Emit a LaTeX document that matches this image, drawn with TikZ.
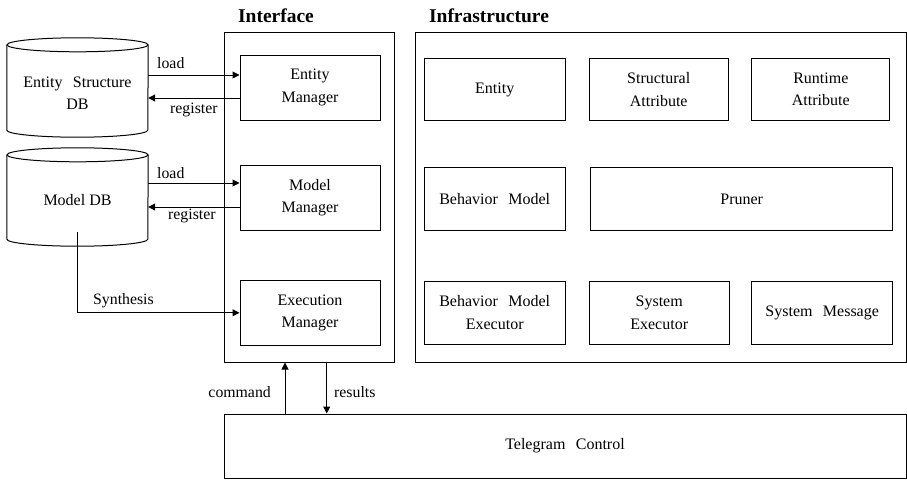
\documentclass[tikz,border=0pt]{standalone}
\usepackage{fontspec}
\setmainfont{Liberation Serif}
\usetikzlibrary{arrows.meta,calc}

\tikzset{
  box/.style={draw, line width=1pt, align=center, inner sep=0pt,
    font=\fontsize{16}{22.5}\selectfont},
  frame/.style={draw, line width=1pt, inner sep=0pt},
  dbstore/.style={inner sep=0pt},
  dbtext/.style={inner sep=0pt, align=center, font=\fontsize{16}{22}\selectfont},
  lbl/.style={inner sep=0pt, font=\fontsize{15.8}{18}\selectfont},
  ttl/.style={inner sep=0pt, font=\fontsize{19.5}{22}\selectfont\bfseries},
  link/.style={line width=1pt, -{Triangle[length=7pt,width=7pt]}},
  plain/.style={line width=1pt},
}
\newcommand{\gap}{\hspace{0.65em}}

\begin{document}
\begin{tikzpicture}[x=1pt,y=-1pt]
\useasboundingbox (0,0) rectangle (907,479);

% titles
\node[ttl] (titf) at (276,16) {Interface};
\node[ttl] (tinf) at (489,16) {Infrastructure};

% outer frames
\node[frame, minimum width=170pt, minimum height=330pt] (iface) at (309,197) {};
\node[frame, minimum width=491pt, minimum height=330pt] (infra) at (660.5,197.3) {};
\node[box, minimum width=682pt, minimum height=64pt] (tc) at (565,446) {Telegram\gap Control};

% interface managers
\node[box, minimum width=140pt, minimum height=65pt] (em) at (310,87.5) {Entity\\Manager};
\node[box, minimum width=140pt, minimum height=65pt] (mm) at (310,197.5) {Model\\Manager};
\node[box, minimum width=140pt, minimum height=65pt] (xm) at (310,312.8) {Execution\\Manager};

% infrastructure components
\node[box, minimum width=141pt, minimum height=62pt] (ent) at (494.7,89.5) {Entity};
\node[box, minimum width=139pt, minimum height=62pt] (sat) at (658.7,89.5) {Structural\\Attribute};
\node[box, minimum width=138pt, minimum height=62pt] (rat) at (820.8,89.5) {Runtime\\Attribute};
\node[box, minimum width=141pt, minimum height=63pt] (bm) at (494.7,199) {Behavior\gap Model};
\node[box, minimum width=302pt, minimum height=63pt] (pr) at (741.7,199) {Pruner};
\node[box, minimum width=141pt, minimum height=63pt] (bme) at (494.7,312.7) {Behavior\gap Model\\Executor};
\node[box, minimum width=140pt, minimum height=63pt] (sex) at (659.2,312.7) {System\\Executor};
\node[box, minimum width=141pt, minimum height=63pt] (smsg) at (822.2,312.7) {System\gap Message};

% databases (cylinders)
\node[dbstore, minimum width=141pt, minimum height=71pt] (esdb) at (77.5,87.5) {};
\node[dbstore, minimum width=141pt, minimum height=70pt] (mdb) at (77.5,197) {};
\node[dbtext] (esdbt) at (77.5,93) {Entity\gap Structure\\DB};
\node[dbtext] (mdbt) at (77.5,200) {Model DB};

\foreach \db in {esdb,mdb}{
  \draw[plain] ($(\db.north)+(0,-7)$) ellipse [x radius=70.5, y radius=7];
  \draw[plain] ($(\db.north west)+(0,-7)$) -- ($(\db.south west)+(0,7)$)
    arc[start angle=180, end angle=360, x radius=70.5, y radius=-7]
    -- ($(\db.north east)+(0,-7)$);
}

% load / register
\draw[link] ([yshift=12.5pt]esdb.east) -- ([yshift=12.5pt]em.west);
\draw[link] ([yshift=-10.5pt]em.west) -- ([yshift=-10.5pt]esdb.east);
\draw[link] ([yshift=14pt]mdb.east) -- ([yshift=14.5pt]mm.west);
\draw[link] ([yshift=-9.5pt]mm.west) -- ([yshift=-10pt]mdb.east);
\node[lbl, anchor=west] (l1) at (157,63) {load};
\node[lbl, anchor=west] (r1) at (170,110) {register};
\node[lbl, anchor=west] (l2) at (157,173) {load};
\node[lbl, anchor=west] (r2) at (168,216) {register};

% synthesis
\draw[link] (mdb.south) |- (xm.west);
\node[lbl, anchor=west] (syn) at (93,301) {Synthesis};

% command / results
\coordinate (cmdx) at (285,0);
\coordinate (resx) at (326.7,0);
\draw[link] (tc.north -| cmdx) -- (iface.south -| cmdx);
\draw[link] (iface.south -| resx) -- (tc.north -| resx);
\node[lbl, anchor=east] (cmd) at (271,392) {command};
\node[lbl, anchor=west] (res) at (334,392) {results};
\end{tikzpicture}
\end{document}
